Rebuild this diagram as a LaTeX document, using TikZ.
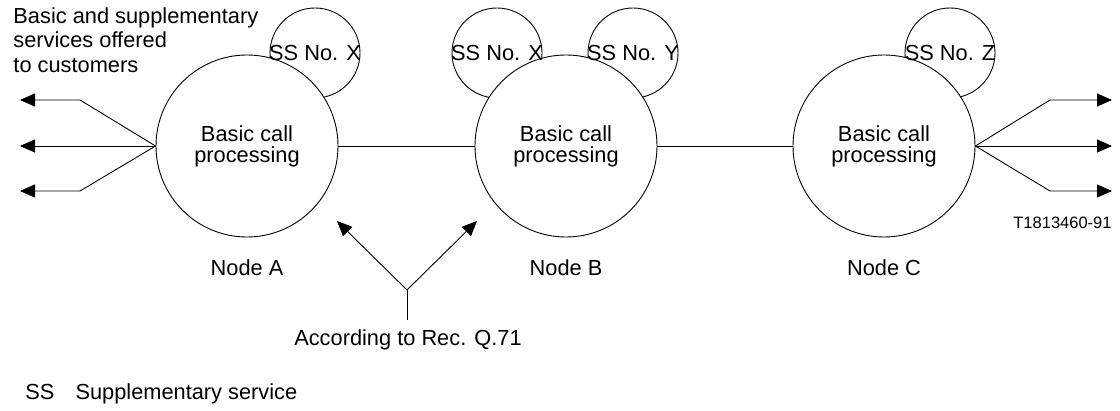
\documentclass[tikz,border=0pt]{standalone}
\usepackage{fontspec}
\setmainfont{Liberation Sans}
\usetikzlibrary{arrows.meta}

\begin{document}
\begin{tikzpicture}[x=1pt,y=1pt,line width=0.9pt,
  txt/.style={font=\fontsize{21.8}{24.5}\selectfont,inner sep=0pt},
  bcp/.style={circle,draw,fill=white,minimum size=182pt,inner sep=0pt,
    align=center,font=\fontsize{21.8}{21}\selectfont},
  ssc/.style={circle,draw,minimum size=90pt,inner sep=0pt},
  tip/.style={-{Triangle[length=15pt,width=13pt]}}]
  \useasboundingbox (0,0) rectangle (1120,410);

  % Supplementary service circles (behind the nodes)
  \node[ssc] (ssxa) at (315,357) {};
  \node[ssc] (ssxb) at (497,357) {};
  \node[ssc] (ssyb) at (633,357) {};
  \node[ssc] (sszc) at (950,357) {};

  % Basic call processing in each node
  \node[bcp] (a) at (247,264) {Basic call\\processing};
  \node[bcp] (b) at (566,264) {Basic call\\processing};
  \node[bcp] (c) at (884,264) {Basic call\\processing};

  % SS labels on top
  \node[txt] (lxa) at (ssxa) {SS No. X};
  \node[txt] (lxb) at (ssxb) {SS No. X};
  \node[txt] (lyb) at (ssyb) {SS No. Y};
  \node[txt] (lzc) at (sszc) {SS No. Z};

  % Links between nodes
  \draw (a) -- (b);
  \draw (b) -- (c);

  % Customer side at node A
  \coordinate (la1) at (80,310);  \coordinate (lo1) at (20,310);
  \coordinate (lo2) at (20,264);
  \coordinate (la3) at (80,219);  \coordinate (lo3) at (20,219);
  \draw[tip] (a.west) -- (la1) -- (lo1);
  \draw[tip] (a.west) -- (lo2);
  \draw[tip] (a.west) -- (la3) -- (lo3);

  % Customer side at node C
  \coordinate (ra1) at (1050,310); \coordinate (ro1) at (1112,310);
  \coordinate (ro2) at (1112,264);
  \coordinate (ra3) at (1050,219); \coordinate (ro3) at (1112,219);
  \draw[tip] (c.east) -- (ra1) -- (ro1);
  \draw[tip] (c.east) -- (ro2);
  \draw[tip] (c.east) -- (ra3) -- (ro3);

  % Node names
  \node[txt,anchor=base] (na) at (247,134) {Node A};
  \node[txt,anchor=base] (nb) at (566,134) {Node B};
  \node[txt,anchor=base] (nc) at (884,134) {Node C};

  % Q.71 fork
  \coordinate (fork) at (407,120);
  \coordinate (foot) at (407,90);
  \coordinate (q1) at (337,189);
  \coordinate (q2) at (477,189);
  \draw (foot) -- (fork);
  \draw[tip] (fork) -- (q1);
  \draw[tip] (fork) -- (q2);
  \node[txt] (q71) at (408,70) {According to Rec. Q.71};

  % Texts
  \node[txt,anchor=north west,align=left] (svc) at (13,403)
    {Basic and supplementary\\services offered\\to customers};
  \node[txt,anchor=east,font=\fontsize{16.5}{18}\selectfont] (fig) at (1112,187.5) {T1813460-91};
  \node[txt,anchor=base west] (key) at (25,10) {SS\hspace{21pt}Supplementary service};
\end{tikzpicture}
\end{document}
